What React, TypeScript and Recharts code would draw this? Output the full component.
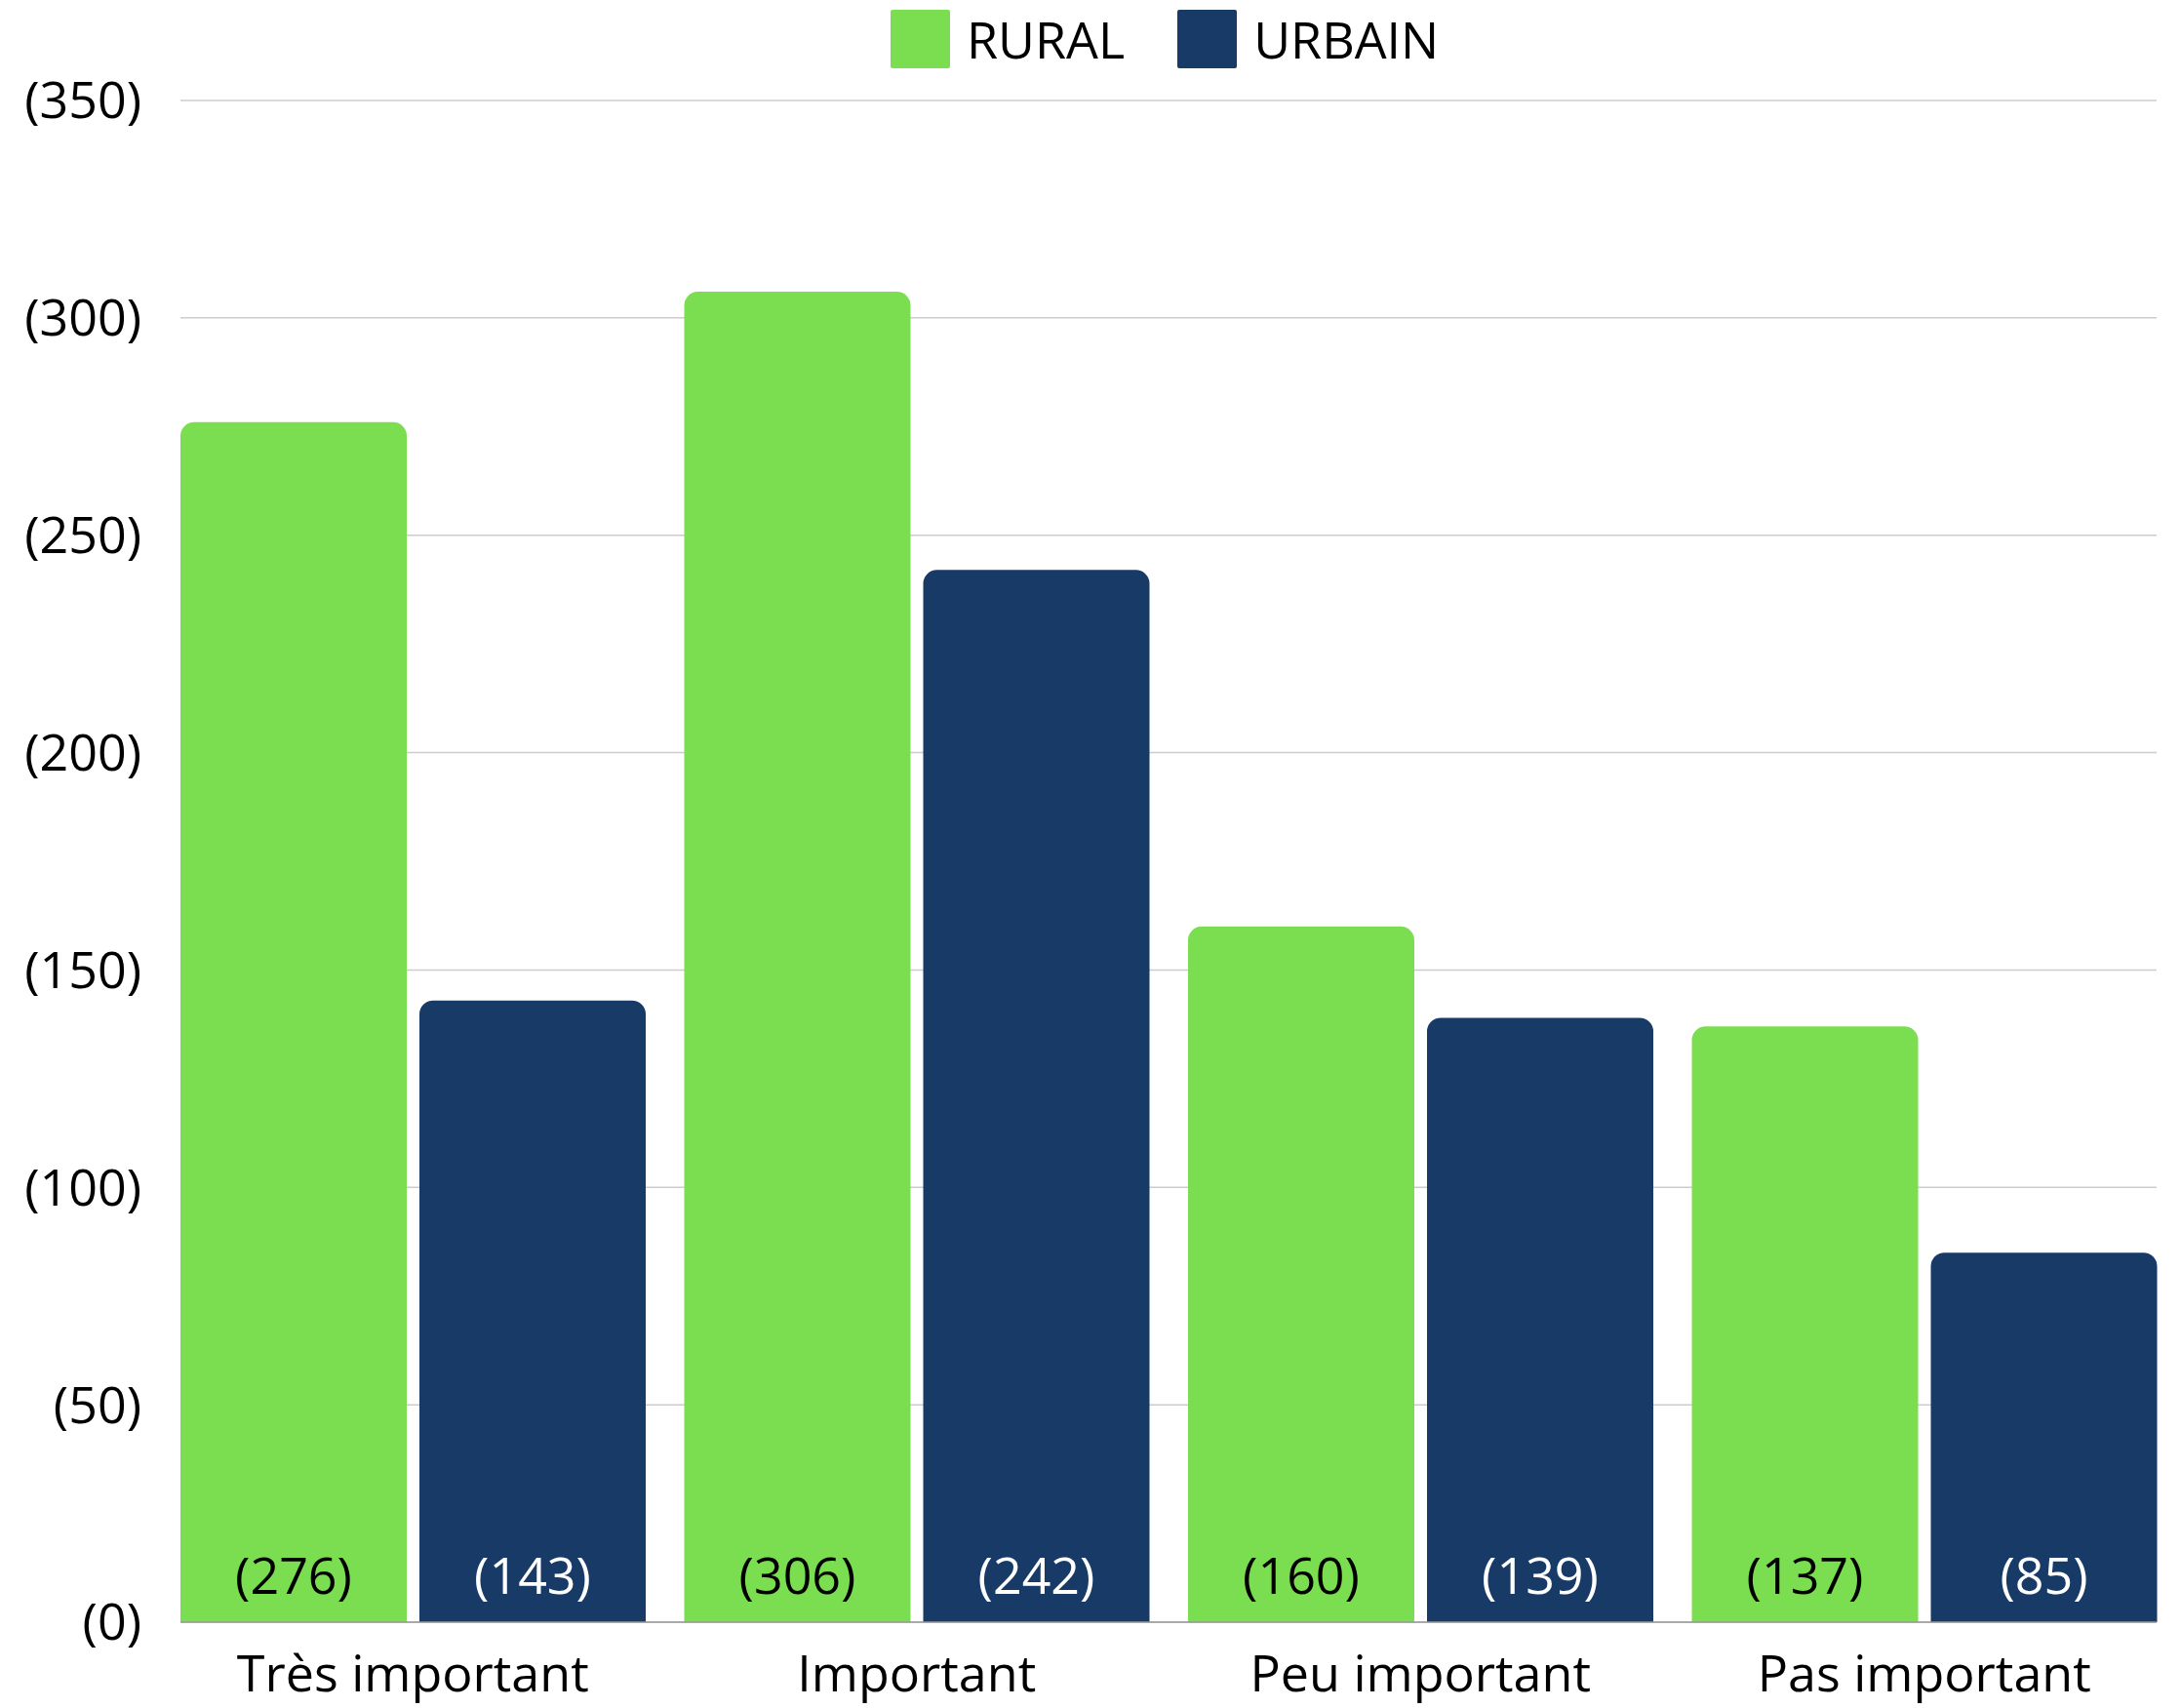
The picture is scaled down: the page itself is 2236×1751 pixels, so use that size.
import React from 'react';
import { BarChart, Bar, XAxis, YAxis, CartesianGrid, Legend, LabelList } from 'recharts';

const CATEGORIES = ['Très important', 'Important', 'Peu important', 'Pas important'];
const RURAL = [276, 306, 160, 137];
const URBAIN = [143, 242, 139, 85];
const Y_TICKS = [0, 50, 100, 150, 200, 250, 300, 350];

const GREEN = '#7ADE50';
const NAVY = '#173A66';
const FONT = "'Open Sans', sans-serif";

const data = CATEGORIES.map((name, i) => ({ name, rural: RURAL[i], urbain: URBAIN[i] }));

const fmt = (v: number) => `(${v})`;

function ValueLabel(color: string) {
  return (props: any) => {
    const { x, y, width, height, value } = props;
    return (
      <text
        x={x + width / 2}
        y={y + height - 29}
        textAnchor="middle"
        fill={color}
        fontSize={52}
        fontFamily={FONT}
      >
        {fmt(value)}
      </text>
    );
  };
}

function LegendBox() {
  const items = [
    { label: 'RURAL', color: GREEN },
    { label: 'URBAIN', color: NAVY },
  ];
  return (
    <div style={{ display: 'flex', alignItems: 'center', height: 80, paddingLeft: 913, fontFamily: FONT }}>
      {items.map((it) => (
        <div key={it.label} style={{ display: 'flex', alignItems: 'center', marginRight: 54 }}>
          <div style={{ width: 61, height: 60, background: it.color, borderRadius: 2, marginRight: 17 }} />
          <span style={{ fontSize: 52, color: '#000', lineHeight: '60px' }}>{it.label}</span>
        </div>
      ))}
    </div>
  );
}

export default function App() {
  return (
    <div style={{ position: 'absolute', left: 0, top: 0, background: '#fff', fontFamily: FONT }}>
      <BarChart
        width={2236}
        height={1751}
        data={data}
        margin={{ top: 23, right: 25, bottom: 0, left: 0 }}
        barCategoryGap={20}
        barGap={13}
      >
        <Legend
          verticalAlign="top"
          align="left"
          content={() => <LegendBox />}
          wrapperStyle={{ left: 0, top: 0, width: 2236 }}
        />
        <CartesianGrid vertical={false} stroke="#cccccc" strokeWidth={1.5} />
        <XAxis
          dataKey="name"
          height={88}
          padding={{ left: -20, right: -20 }}
          tickLine={false}
          axisLine={{ stroke: '#999999', strokeWidth: 1.5 }}
          tickSize={0}
          tickMargin={34}
          tick={{ fontSize: 52, fill: '#000', fontFamily: FONT }}
        />
        <YAxis
          width={185}
          domain={[0, 350]}
          ticks={Y_TICKS}
          tickFormatter={fmt}
          axisLine={false}
          tickLine={false}
          tickSize={0}
          tickMargin={40}
          tick={{ fontSize: 52, fill: '#000', fontFamily: FONT }}
        />
        <Bar dataKey="rural" fill={GREEN} radius={[14, 14, 0, 0]} isAnimationActive={false}>
          <LabelList dataKey="rural" content={ValueLabel('#000')} />
        </Bar>
        <Bar dataKey="urbain" fill={NAVY} radius={[14, 14, 0, 0]} isAnimationActive={false}>
          <LabelList dataKey="urbain" content={ValueLabel('#fff')} />
        </Bar>
      </BarChart>
    </div>
  );
}
